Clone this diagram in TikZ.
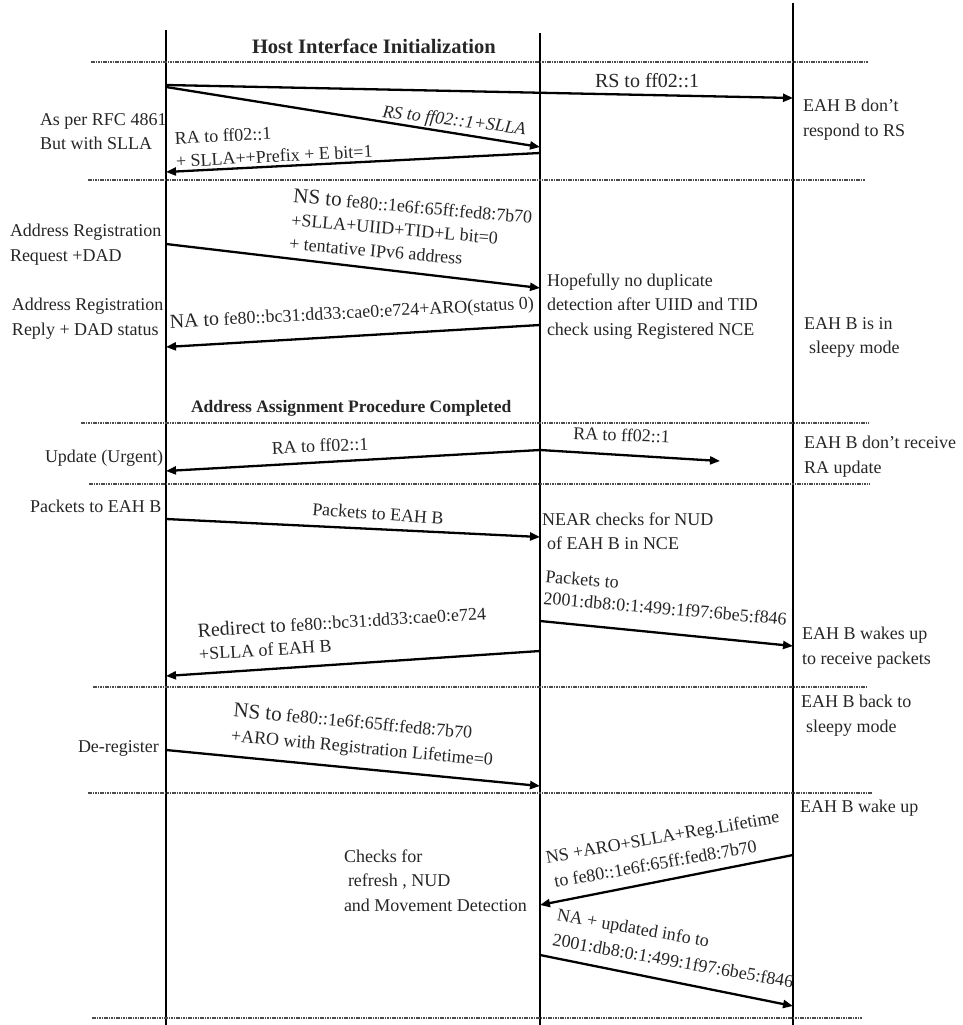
\documentclass[tikz,border=0pt]{standalone}
\usepackage{fontspec}
\setmainfont{Liberation Serif}
\usetikzlibrary{arrows.meta}
\newcommand{\fsz}[1]{\fontsize{#1}{24.5}\selectfont}
\newcommand{\fszb}[2]{\fontsize{#1}{#2}\selectfont}
\begin{document}
\begin{tikzpicture}[x=1pt,y=-1pt,
  life/.style={line width=2.4pt, black},
  sep/.style={line width=1.2pt, black!70, dash pattern=on 1.6pt off 0.8pt},
  msg/.style={line width=2.3pt, black, -{Triangle[length=10pt,width=8pt]}},
  txt/.style={inner sep=0pt, outer sep=0pt, text=black!85, font=\fsz{18}},
  lbl/.style={txt, anchor=base west},
  note/.style={txt, align=left, anchor=north west},
]
\useasboundingbox (0,0) rectangle (963,1025);

% lifelines
\coordinate (L0) at (166,30);  \coordinate (L1) at (166,1025);
\coordinate (M0) at (540,33);  \coordinate (M1) at (540,1025);
\coordinate (R0) at (793,3);   \coordinate (R1) at (793,1025);
\draw[life] (L0) -- (L1);
\draw[life] (M0) -- (M1);
\draw[life] (R0) -- (R1);

% separators
\coordinate (s1a) at (91,62);   \coordinate (s1b) at (868,62);
\coordinate (s2a) at (88,180);  \coordinate (s2b) at (865,180);
\coordinate (s3a) at (81,423);  \coordinate (s3b) at (869,423);
\coordinate (s4a) at (89,484);  \coordinate (s4b) at (870,484);
\coordinate (s5a) at (93,687);  \coordinate (s5b) at (866,687);
\coordinate (s6a) at (88,793);  \coordinate (s6b) at (872,793);
\coordinate (s7a) at (92,1018); \coordinate (s7b) at (862,1018);
\foreach \i in {1,...,7} {\draw[sep] (s\i a) -- (s\i b);}

% messages
\coordinate (a1s) at (166,85);  \coordinate (a1e) at (793,98);
\coordinate (a2s) at (166,87);  \coordinate (a2e) at (540,147);
\coordinate (a3s) at (540,153); \coordinate (a3e) at (166,172);
\coordinate (a4s) at (166,244); \coordinate (a4e) at (540,288);
\coordinate (a5s) at (540,325); \coordinate (a5e) at (166,347);
\coordinate (a6s) at (540,450); \coordinate (a6e) at (166,471);
\coordinate (a7e) at (720,461);
\coordinate (a8s) at (166,519); \coordinate (a8e) at (540,537);
\coordinate (a9s) at (540,621); \coordinate (a9e) at (793,646);
\coordinate (a10s) at (540,651); \coordinate (a10e) at (166,676);
\coordinate (a11s) at (166,750); \coordinate (a11e) at (540,786);
\coordinate (a12s) at (793,855); \coordinate (a12e) at (540,905);
\coordinate (a13s) at (540,955); \coordinate (a13e) at (793,1006);
\draw[msg] (a1s) -- (a1e);
\draw[msg] (a2s) -- (a2e);
\draw[msg] (a3s) -- (a3e);
\draw[msg] (a4s) -- (a4e);
\draw[msg] (a5s) -- (a5e);
\draw[msg] (a6s) -- (a6e);
\draw[msg] (a6s) -- (a7e);
\draw[msg] (a8s) -- (a8e);
\draw[msg] (a9s) -- (a9e);
\draw[msg] (a10s) -- (a10e);
\draw[msg] (a11s) -- (a11e);
\draw[msg] (a12s) -- (a12e);
\draw[msg] (a13s) -- (a13e);

% headings
\node[lbl, font=\bfseries\fsz{20.5}] (title) at (252,54) {Host Interface Initialization};
\node[lbl, font=\bfseries\fsz{17.5}] (title2) at (191,412) {Address Assignment Procedure Completed};

% section 1
\node[lbl, font=\fsz{20}] (t1) at (595,87) {RS to ff02::1};
\node[lbl, font=\itshape\fsz{18}, rotate=-7] (t2) at (382,117) {RS to ff02::1+SLLA};
\node[note, font=\fszb{18}{23}, rotate=3] (t3) at (174.4,131.7) {RA to ff02::1\\+ SLLA++Prefix + E bit=1};
\node[note] (n1) at (40,113.5) {As per RFC 4861\\But with SLLA};
\node[note] (n2) at (803,99.5) {EAH B don’t\\respond to RS};

% section 2
\node[note, font=\fszb{18}{23.5}, rotate=-5] (t4) at (294.2,188.8)
  {{\fsz{21}NS to} fe80::1e6f:65ff:fed8:7b70\\+SLLA+UIID+TID+L bit=0\\+ tentative IPv6 address};
\node[note] (n3) at (10,224.5) {Address Registration\\Request +DAD};
\node[note] (n4) at (12,298.5) {Address Registration\\Reply + DAD status};
\node[lbl, rotate=3] (t5) at (170,328) {{\fsz{20}NA to} fe80::bc31:dd33:cae0:e724+ARO(status 0)};
\node[note] (n5) at (547,273.5) {Hopefully no duplicate\\detection after UIID and TID\\check using Registered NCE};
\node[note] (n6) at (804,317.5) {EAH B is in\\\hspace*{5pt}sleepy mode};

% section 3
\node[lbl, rotate=2.5] (t6) at (272,454) {RA to ff02::1};
\node[lbl, rotate=-2.5] (t7) at (573,439) {RA to ff02::1};
\node[lbl] (n7) at (45,462) {Update (Urgent)};
\node[note] (n8) at (804,436.5) {EAH B don’t receive\\RA update};

% section 4
\node[lbl] (n9) at (30,512) {Packets to EAH B};
\node[lbl, rotate=-4] (t8) at (312,515) {Packets to EAH B};
\node[note] (n10) at (542,512.5) {NEAR checks for NUD\\\hspace*{5pt}of EAH B in NCE};
\node[note, font=\fszb{18}{22}, rotate=-5] (t9) at (546.1,569.7) {Packets to\\2001:db8:0:1:499:1f97:6be5:f846};
\node[note, font=\fszb{18}{23}, rotate=3.5] (t10) at (197.2,623.3) {{\fsz{20}Redirect to} fe80::bc31:dd33:cae0:e724\\+SLLA of EAH B};
\node[note] (n11) at (802,627.5) {EAH B wakes up\\to receive packets};

% section 5
\node[note] (n12) at (801,695.5) {EAH B back to\\\hspace*{5pt}sleepy mode};
\node[note, font=\fszb{18}{25}, rotate=-5.3] (t11) at (234.3,702.8) {{\fsz{21}NS to} fe80::1e6f:65ff:fed8:7b70\\+ARO with Registration Lifetime=0};
\node[lbl] (n13) at (78,752) {De-register};

% section 6
\node[lbl] (n14) at (800,812) {EAH B wake up};
\node[note, font=\fszb{18}{25.4}, rotate=10] (t12) at (544.9,850.9) {NS +ARO+SLLA+Reg.Lifetime\\\hspace*{4pt}to fe80::1e6f:65ff:fed8:7b70};
\node[note, font=\fszb{18}{25.4}, rotate=-10] (t13) at (558.5,907.9) {NA + updated info to\\2001:db8:0:1:499:1f97:6be5:f846};
\node[note] (n15) at (344,849.5) {Checks for\\\hspace*{4pt}refresh , NUD\\and Movement Detection};
\end{tikzpicture}
\end{document}
